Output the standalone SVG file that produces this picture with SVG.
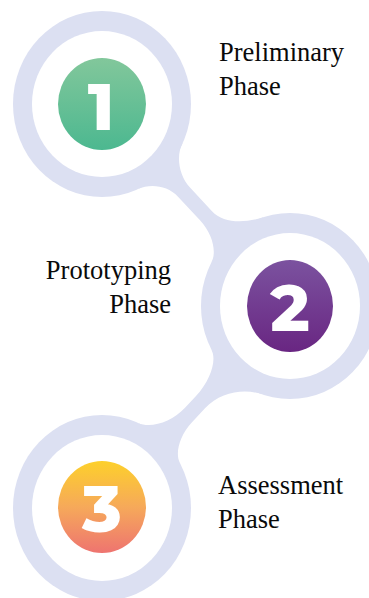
<svg xmlns="http://www.w3.org/2000/svg" width="369" height="598" viewBox="0 0 369 598">
<defs>
<linearGradient id="gGreen" x1="0" y1="0" x2="0" y2="1"><stop offset="0" stop-color="#82c79b"/><stop offset="1" stop-color="#4cb890"/></linearGradient>
<linearGradient id="gPurple" x1="0" y1="0" x2="0" y2="1"><stop offset="0" stop-color="#7b529f"/><stop offset="1" stop-color="#692682"/></linearGradient>
<linearGradient id="gOrange" x1="0" y1="0" x2="0" y2="1"><stop offset="0" stop-color="#fdd02b"/><stop offset="0.5" stop-color="#f6a95a"/><stop offset="1" stop-color="#ee7470"/></linearGradient>
<style>
.ring{fill:#dce0f2}
.hole{fill:#ffffff}
.neck{fill:#dce0f2}
.num{font-family:"Montserrat","Inter","Open Sans",sans-serif;font-weight:800;font-size:66px;fill:#ffffff;text-anchor:middle}
.lbl{font-family:"Liberation Serif","Times New Roman",serif;font-size:26.5px;fill:#0a0a0a}
</style>
</defs>
<rect width="369" height="598" fill="#ffffff"/>
<g id="connectors">
<path class="neck" d="M 183,142.6 C 175.6,155.2 178.7,175.4 190,187.5 L 212,211.2 C 223.3,223.7 245.3,223.1 264,217.1 L 211.6,262 C 216.8,252 212.7,233.9 200,220.3 L 178,196.7 C 167.4,185.3 150.2,183.5 138,189.1 Z"/>
<path class="neck" d="M 211.6,350 C 216.8,360 210.8,380 196,396 L 185,407.8 C 171.7,422.1 150.7,428.8 138,422.9 L 179.9,463 C 174.9,453.5 179.3,435.9 192,422.3 L 205,408.3 C 220.6,391.5 244.9,388.4 262,394.3 Z"/>
</g>
<g id="node1">
<ellipse class="ring" cx="102" cy="104" rx="89" ry="93"/>
<ellipse class="hole" cx="102" cy="104" rx="70" ry="73"/>
<ellipse cx="102" cy="104" rx="44" ry="46" fill="url(#gGreen)"/>
<text class="num" x="101" y="130">1</text>
<text class="lbl" x="219" y="61">Preliminary</text>
<text class="lbl" x="219" y="95">Phase</text>
</g>
<g id="node2">
<ellipse class="ring" cx="290" cy="306" rx="89" ry="93"/>
<ellipse class="hole" cx="290" cy="306" rx="70" ry="73"/>
<ellipse cx="290" cy="306" rx="43" ry="46" fill="url(#gPurple)"/>
<text class="num" x="290" y="331">2</text>
<text class="lbl" x="171" y="279" text-anchor="end">Prototyping</text>
<text class="lbl" x="171" y="313" text-anchor="end">Phase</text>
</g>
<g id="node3">
<ellipse class="ring" cx="102" cy="508" rx="89" ry="93"/>
<ellipse class="hole" cx="102" cy="508" rx="70" ry="73"/>
<ellipse cx="102" cy="507" rx="44" ry="46" fill="url(#gOrange)"/>
<text class="num" x="102" y="532">3</text>
<text class="lbl" x="218" y="494">Assessment</text>
<text class="lbl" x="218" y="528">Phase</text>
</g>
</svg>
